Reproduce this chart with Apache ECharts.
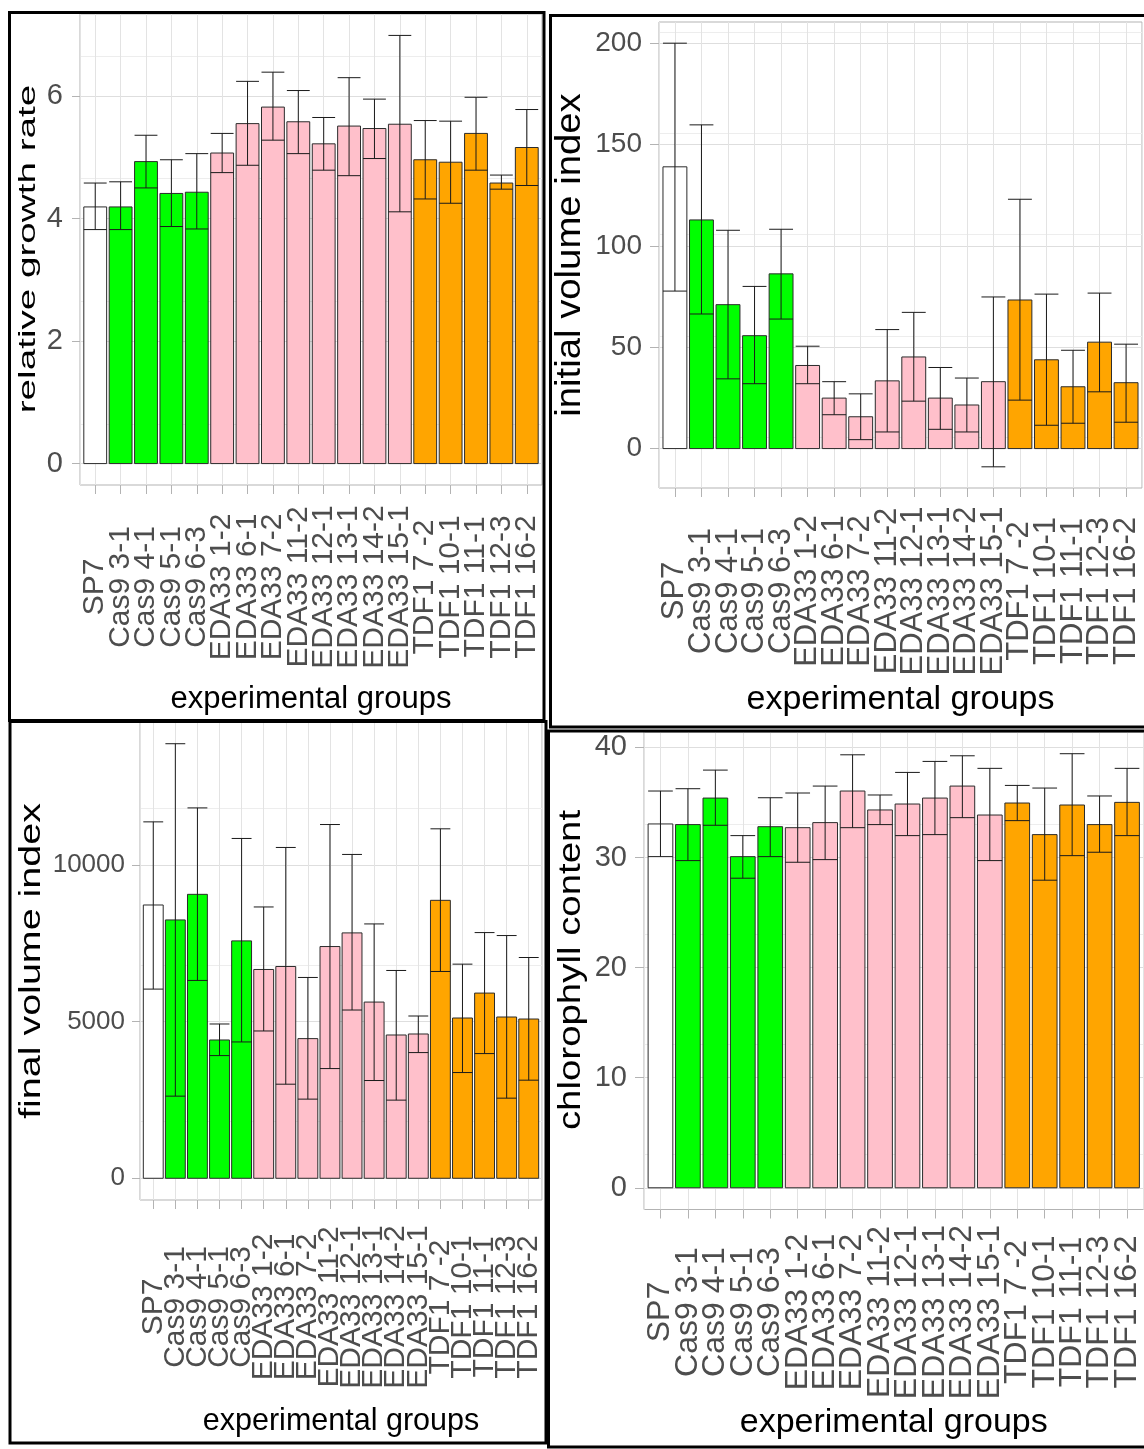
<!DOCTYPE html>
<html>
<head>
<meta charset="utf-8">
<script src="https://cdn.jsdelivr.net/npm/echarts@6/dist/echarts.min.js"></script>
<style>
html,body{margin:0;padding:0;background:#ffffff;}
#chart{width:1144px;height:1449px;}
</style>
</head>
<body>
<div id="chart"></div>
<script>
// ---------------- data ----------------
const categories = ['SP7','Cas9 3-1','Cas9 4-1','Cas9 5-1','Cas9 6-3','EDA33 1-2','EDA33 6-1','EDA33 7-2','EDA33 11-2','EDA33 12-1','EDA33 13-1','EDA33 14-2','EDA33 15-1','TDF1 7 -2','TDF1 10-1','TDF1 11-1','TDF1 12-3','TDF1 16-2'];
const groups = ['SP7','Cas9','Cas9','Cas9','Cas9','EDA33','EDA33','EDA33','EDA33','EDA33','EDA33','EDA33','EDA33','TDF1','TDF1','TDF1','TDF1','TDF1'];

// relative growth rate
const rgrMean = [4.19,4.19,4.93,4.41,4.43,5.07,5.55,5.82,5.58,5.22,5.51,5.47,5.54,4.96,4.92,5.39,4.58,5.16];
const rgrLow  = [3.82,3.82,4.50,3.87,3.83,4.75,4.87,5.28,5.06,4.79,4.70,4.98,4.11,4.32,4.25,4.79,4.48,4.54];
const rgrHigh = [4.58,4.60,5.36,4.96,5.06,5.39,6.24,6.39,6.09,5.65,6.30,5.95,6.99,5.60,5.59,5.98,4.71,5.78];
const rgrTicks = [0,2,4,6];

// initial volume index
const ivMean = [139.0,112.8,71.0,55.7,86.2,41.0,24.9,15.7,33.4,45.2,24.9,21.5,33.0,73.3,43.8,30.5,52.5,32.5];
const ivLow  = [77.7,66.4,34.4,32.0,63.9,32.0,16.7,4.4,8.2,23.4,9.5,8.2,-9.0,23.9,11.5,12.5,28.0,13.0];
const ivHigh = [200.0,159.7,107.7,80.0,108.2,50.5,33.0,27.0,58.7,67.2,40.0,34.8,74.8,123.0,76.2,48.5,76.7,51.5];
const ivTicks = [0,50,100,150,200];

// final volume index
const fvMean = [8726,8249,9066,4416,7580,6667,6762,4459,7399,7835,5626,4575,4607,8875,5117,5913,5149,5085];
const fvLow  = [6040,2622,6317,3917,4353,4703,3004,2527,3503,5372,3121,2495,4013,6603,3376,3981,2558,3132];
const fvHigh = [11380,13875,11826,4926,10850,8663,10563,6412,11295,10340,8121,6635,5181,11158,6837,7845,7750,7049];
const fvTicks = [0,5000,10000];

// chlorophyll content
const chlMean = [33.05,32.99,35.40,30.08,32.80,32.71,33.17,36.04,34.32,34.86,35.40,36.49,33.86,34.95,32.08,34.77,32.99,35.01];
const chlLow  = [30.08,29.72,32.93,28.12,30.08,29.57,29.81,32.71,32.99,31.99,32.08,33.62,29.72,33.35,27.94,30.17,30.48,31.99];
const chlHigh = [36.04,36.25,37.94,31.99,35.43,35.86,36.49,39.33,35.68,37.73,38.73,39.24,38.10,36.55,36.31,39.43,35.59,38.10];
const chlTicks = [0,10,20,30,40];

const yTitles = ['relative growth rate','initial volume index','final volume index','chlorophyll content'];
const xTitle = 'experimental groups';

// ---------------- styling / layout ----------------
const groupColors = {SP7:'#FFFFFF', Cas9:'#00FF00', EDA33:'#FFC0CB', TDF1:'#FFA500'};
const FONT = '"Liberation Sans", Arial, Helvetica, sans-serif';
const X_MIN = -0.6, X_MAX = 17.6;   // discrete-axis padding like ggplot (0.6 of a band)

const panels = [
  {mean:rgrMean, low:rgrLow, high:rgrHigh, ticks:rgrTicks, step:2,
   grid:{left:80, top:14, width:462, height:471},
   yLabelSize:29, yLabelMargin:17, yTickLen:8,
   xLabelSize:30, xLabelMargin:102, xNameGap:214, xNameSize:31,
   yTitle:{x:28, y:249, size:24.3, sx:1.59}},
  {mean:ivMean, low:ivLow, high:ivHigh, ticks:ivTicks, step:50,
   grid:{left:659, top:22, width:483, height:466},
   yLabelSize:28, yLabelMargin:17, yTickLen:9,
   xLabelSize:31, xLabelMargin:103, xNameGap:212, xNameSize:34,
   yTitle:{x:570, y:255, size:34.5, sx:1.11}},
  {mean:fvMean, low:fvLow, high:fvHigh, ticks:fvTicks, step:5000,
   grid:{left:140, top:722, width:402, height:478},
   yLabelSize:26, yLabelMargin:15, yTickLen:8,
   xLabelSize:30, xLabelMargin:107, xNameGap:222, xNameSize:30.5,
   yTitle:{x:32, y:961, size:29, sx:1.36}},
  {mean:chlMean, low:chlLow, high:chlHigh, ticks:chlTicks, step:10,
   grid:{left:644, top:732, width:499.5, height:477.5},
   yLabelSize:29, yLabelMargin:17, yTickLen:9,
   xLabelSize:32, xLabelMargin:102.5, xNameGap:213.5, xNameSize:34,
   yTitle:{x:571, y:970, size:32, sx:1.2}}
];

// tick positions: the category indices, plus the two axis ends (hidden via showMin/MaxLabel:false)
const xTickValues = [X_MIN].concat(categories.map((c, i) => i), [X_MAX]);

function expandRange(low, high) {
  const lo = Math.min(0, Math.min.apply(null, low));
  const hi = Math.max(0, Math.max.apply(null, high));
  const pad = (hi - lo) * 0.05;
  return [lo - pad, hi + pad];
}

function renderBar(params, api) {
  const i = api.value(0);
  const v = api.value(1);
  const a = api.coord([i - 0.45, v]);
  const b = api.coord([i + 0.45, 0]);
  return {
    type: 'rect',
    shape: {x: a[0], y: a[1], width: b[0] - a[0], height: b[1] - a[1]},
    style: {fill: groupColors[groups[i]], stroke: '#2b2b2b', lineWidth: 1}
  };
}

function renderErr(params, api) {
  const i = api.value(0), lo = api.value(1), hi = api.value(2);
  const pl = api.coord([i, lo]);
  const ph = api.coord([i, hi]);
  const left = api.coord([i - 0.45, lo]);
  const hw = pl[0] - left[0];
  const st = {stroke: '#1a1a1a', lineWidth: 1};
  return {
    type: 'group',
    children: [
      {type: 'line', shape: {x1: pl[0], y1: pl[1], x2: ph[0], y2: ph[1]}, style: st},
      {type: 'line', shape: {x1: pl[0] - hw, y1: pl[1], x2: pl[0] + hw, y2: pl[1]}, style: st},
      {type: 'line', shape: {x1: ph[0] - hw, y1: ph[1], x2: ph[0] + hw, y2: ph[1]}, style: st}
    ]
  };
}

const grids = [], xAxes = [], yAxes = [], series = [], graphics = [];

panels.forEach((p, k) => {
  const range = expandRange(p.low, p.high);
  grids.push(Object.assign({show: true, borderColor: '#B3B3B3', borderWidth: 1,
    backgroundColor: 'transparent', containLabel: false, outerBoundsMode: 'none'}, p.grid));
  xAxes.push({
    type: 'value', gridIndex: k, min: X_MIN, max: X_MAX,
    axisLine: {show: false, onZero: false},
    axisTick: {show: true, customValues: xTickValues, length: 9, lineStyle: {color: '#B3B3B3', width: 1}},
    axisLabel: {customValues: xTickValues,
      formatter: v => (Number.isInteger(v) ? categories[v] : ''),
      showMinLabel: false, showMaxLabel: false, hideOverlap: false,
      rotate: 90, align: 'center', verticalAlign: 'middle', margin: p.xLabelMargin,
      fontSize: p.xLabelSize, color: '#4D4D4D', fontFamily: FONT},
    splitLine: {show: true, lineStyle: {color: '#E3E3E3', width: 1}},
    name: xTitle, nameLocation: 'middle', nameGap: p.xNameGap,
    nameTextStyle: {fontSize: p.xNameSize, color: '#000', verticalAlign: 'middle', fontFamily: FONT}
  });
  yAxes.push({
    type: 'value', gridIndex: k, min: range[0], max: range[1], interval: p.step,
    axisLine: {show: false, onZero: false},
    axisTick: {show: true, customValues: p.ticks, length: p.yTickLen, lineStyle: {color: '#B3B3B3', width: 1}},
    axisLabel: {customValues: p.ticks, formatter: v => String(v), showMinLabel: true, showMaxLabel: true,
      margin: p.yLabelMargin, fontSize: p.yLabelSize, color: '#4D4D4D', fontFamily: FONT},
    splitLine: {show: true, lineStyle: {color: '#DEDEDE', width: 1}},
    minorTick: {show: false, splitNumber: 2},
    minorSplitLine: {show: true, lineStyle: {color: '#EDEDED', width: 1}}
  });
  series.push({
    type: 'custom', xAxisIndex: k, yAxisIndex: k,
    renderItem: renderBar, encode: {x: 0, y: 1},
    data: categories.map((c, i) => [i, p.mean[i]]), silent: true
  });
  series.push({
    type: 'custom', xAxisIndex: k, yAxisIndex: k,
    renderItem: renderErr, encode: {x: 0, y: [1, 2]},
    data: categories.map((c, i) => [i, p.low[i], p.high[i]]), silent: true, z: 3
  });
  graphics.push({
    type: 'text', x: p.yTitle.x, y: p.yTitle.y, rotation: Math.PI / 2, scaleX: p.yTitle.sx, scaleY: 1,
    style: {text: yTitles[k], fontSize: p.yTitle.size, fontFamily: FONT, fill: '#000',
      textAlign: 'center', textVerticalAlign: 'middle'}
  });
});

// panel frames
const frames = [
  {x: 9.5, y: 12.5, width: 534.5, height: 708},
  {x: 550.5, y: 15.5, width: 610, height: 711.5},
  {x: 10, y: 721.5, width: 536, height: 721.5},
  {x: 548.5, y: 731, width: 610, height: 716}
];
frames.forEach(f => graphics.push({type: 'rect', shape: f, style: {fill: 'none', stroke: '#000', lineWidth: 3}, z: 10}));

const chart = echarts.init(document.getElementById('chart'), null, {renderer: 'canvas'});
chart.setOption({
  animation: false,
  backgroundColor: '#ffffff',
  textStyle: {fontFamily: FONT},
  grid: grids,
  xAxis: xAxes,
  yAxis: yAxes,
  series: series,
  graphic: graphics
});
</script>
</body>
</html>
